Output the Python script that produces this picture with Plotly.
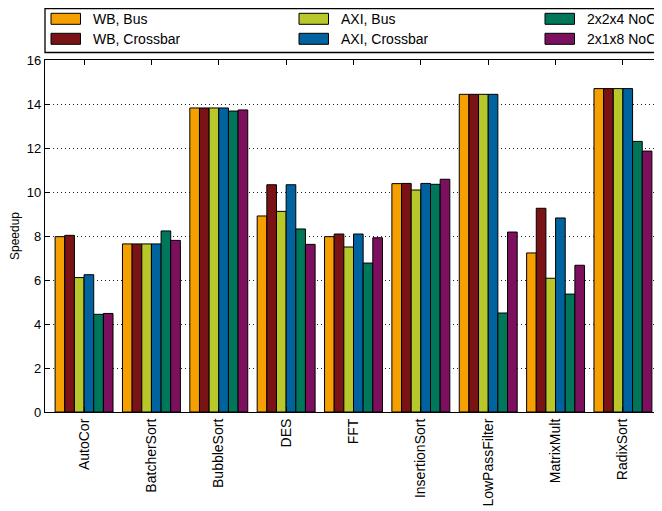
import plotly.graph_objects as go

categories = ["AutoCor", "BatcherSort", "BubbleSort", "DES", "FFT",
              "InsertionSort", "LowPassFilter", "MatrixMult", "RadixSort"]

series_names = ["WB, Bus", "WB, Crossbar", "AXI, Bus", "AXI, Crossbar",
                "2x2x4 NoC", "2x1x8 NoC"]

wb_bus        = [7.97, 7.64, 13.82, 8.91, 7.97, 10.38, 14.44, 7.23, 14.70]
wb_crossbar   = [8.03, 7.64, 13.82, 10.33, 8.09, 10.39, 14.44, 9.26, 14.70]
axi_bus       = [6.11, 7.64, 13.82, 9.12, 7.50, 10.09, 14.44, 6.08, 14.70]
axi_crossbar  = [6.24, 7.64, 13.82, 10.33, 8.09, 10.39, 14.44, 8.82, 14.70]
noc_2x2x4     = [4.44, 8.23, 13.68, 8.32, 6.77, 10.35, 4.50, 5.36, 12.30]
noc_2x1x8     = [4.48, 7.80, 13.73, 7.62, 7.92, 10.58, 8.18, 6.67, 11.86]

series_values = [wb_bus, wb_crossbar, axi_bus, axi_crossbar, noc_2x2x4, noc_2x1x8]
colors = ["#F5A000", "#7A1315", "#B8C72A", "#00629E", "#00765A", "#7D0F5F"]

y_ticks = [0, 2, 4, 6, 8, 10, 12, 14, 16]

# the page body has an 8px margin, so the figure is drawn 8px in from the corner
OFF = 8
W, H = 662 - OFF, 511 - OFF
ML, MT = 45 - OFF, 60 - OFF
PLOT_BOTTOM = 412 - OFF
MR, MB = 0, H - PLOT_BOTTOM
PW, PH = W - ML - MR, H - MT - MB

FONT = "Liberation Sans, Arial, sans-serif"

fig = go.Figure()
for name, vals, col in zip(series_names, series_values, colors):
    fig.add_trace(go.Bar(
        x=categories, y=vals, name=name,
        marker=dict(color=col, line=dict(color="black", width=1)),
        showlegend=False,
    ))

# custom legend (3 columns x 2 rows) drawn in paper coordinates
def px_x(px):
    return (px - OFF - ML) / PW

def px_y(py):
    return (PLOT_BOTTOM - (py - OFF)) / PH

shapes = [dict(type="rect", xref="paper", yref="paper",
               x0=px_x(45), x1=px_x(720), y0=px_y(52.5), y1=px_y(8.7),
               line=dict(color="black", width=1.3), fillcolor="white", layer="above")]
annotations = []
col_x = [51, 299, 545]
row_y = [18.8, 38.8]
legend_order = [0, 2, 4, 1, 3, 5]  # row-major placement
for slot, idx in enumerate(legend_order):
    r, c = divmod(slot, 3)
    x0 = col_x[c]
    yc = row_y[r]
    shapes.append(dict(type="rect", xref="paper", yref="paper",
                       x0=px_x(x0), x1=px_x(x0 + 29.5),
                       y0=px_y(yc + 5.5), y1=px_y(yc - 5.5),
                       fillcolor=colors[idx], line=dict(color="black", width=1),
                       layer="above"))
    annotations.append(dict(xref="paper", yref="paper", x=px_x(x0 + 40), y=px_y(yc),
                            text=series_names[idx], showarrow=False,
                            xanchor="left", yanchor="middle",
                            font=dict(family=FONT, size=14, color="black")))

fig.update_layout(
    width=W, height=H,
    margin=dict(l=ML, r=MR, t=MT, b=MB, autoexpand=False),
    barmode="group", bargap=0.14, bargroupgap=0,
    plot_bgcolor="white", paper_bgcolor="white",
    font=dict(family=FONT, size=13, color="black"),
    shapes=shapes, annotations=annotations,
    showlegend=False,
)
fig.update_xaxes(
    range=[-0.58, 8.58], tickangle=-90, automargin=False,
    showline=True, linecolor="black", linewidth=1.2, mirror="ticks",
    ticks="inside", ticklen=5, tickcolor="black",
    showgrid=False, tickfont=dict(family=FONT, size=14),
)
fig.update_yaxes(
    range=[0, 16], tickvals=y_ticks, automargin=False,
    showline=True, linecolor="black", linewidth=1.2, mirror="ticks",
    ticks="inside", ticklen=5, tickcolor="black",
    showgrid=True, gridcolor="#222222", griddash="1px,3px", gridwidth=1,
    zeroline=False,
    title=dict(text="Speedup", font=dict(family=FONT, size=12), standoff=8),
    tickfont=dict(family=FONT, size=13),
)

fig.write_html("out.html")
